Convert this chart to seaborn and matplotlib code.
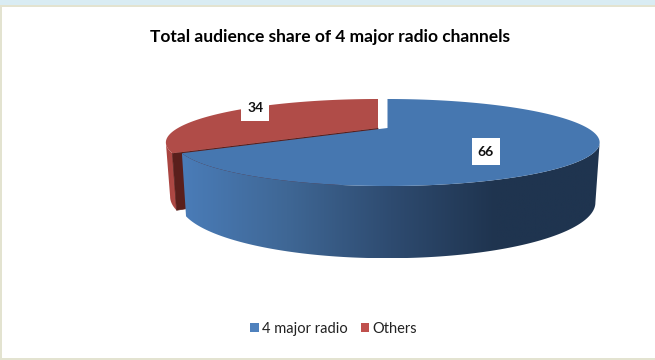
import numpy as np
import matplotlib
matplotlib.use('Agg')
import matplotlib.pyplot as plt
from matplotlib.colors import LinearSegmentedColormap
from matplotlib.patches import Patch, Polygon, Rectangle
import seaborn as sns

# Data
categories = ['4 major radio', 'Others']
shares = [66, 34]
title = 'Total audience share of 4 major radio channels'

sns.set_theme(style='white')
plt.rcParams['font.family'] = ['Lato', 'DejaVu Sans']

legend_colors = sns.color_palette(['#4F81BD', '#C0504D'])
blue_wall = sns.blend_palette(['#4A7CB8', '#3F6795', '#2E4B70', '#1F344F', '#1F344F'], 256)
red_wall = sns.blend_palette(['#A8423E', '#B04C48'], 32)


# tilted disc seen in perspective, angle clockwise from 12 o'clock
def ring(deg, cx, cy, a, k, p=1 / 3):
    t = np.radians(deg)
    u, v = np.sin(t), np.cos(t)
    return np.column_stack([cx + a * u / (1 + p * v), cy - k * v / (1 + p * v)])


def wall(ax, deg, cx, y0, colors, z):
    top = ring(deg, cx, 128, 200, 38.67)
    bottom = ring(deg, cx, y0, 196, 49.5)
    poly = Polygon(np.vstack([top, bottom[::-1]]), closed=True, fc='none', ec='none')
    ax.add_patch(poly)
    pts = poly.get_xy()
    cmap = LinearSegmentedColormap.from_list('w', colors)
    im = ax.imshow(np.linspace(0, 1, 256)[None, :], cmap=cmap, aspect='auto', zorder=z,
                   extent=(pts[:, 0].min(), pts[:, 0].max(), pts[:, 1].max(), pts[:, 1].min()))
    im.set_clip_path(poly)


fig, ax = plt.subplots(figsize=(6.55, 3.6), dpi=100)
fig.subplots_adjust(0, 0, 1, 1)
ax.axis('off')

# slide frame
ax.add_patch(Rectangle((0, 0), 655, 360, fc='#E3E3D0', ec='none', zorder=0))
ax.add_patch(Rectangle((0, 0), 655, 5, fc='#D9ECF3', ec='none', zorder=0.1))
ax.add_patch(Rectangle((2, 7), 653, 351, fc='white', ec='none', zorder=0.2))

end = 360 * shares[0] / sum(shares)

# Others slice, pulled out to the left
red_cx = 378
red_deg = np.linspace(end, 360, 200)
wall(ax, np.linspace(end, end + 13, 40), red_cx, 178, red_wall, 1)
tip_top = ring([end], red_cx, 128, 200, 38.67)[0]
tip_bot = ring([end], red_cx, 178, 196, 49.5)[0]
ax.add_patch(Polygon([(red_cx, 128), tip_top, tip_bot, (red_cx, 178)], fc='#5A1F1C', ec='#5A1F1C', lw=0.5, zorder=2))
ax.add_patch(Polygon(np.vstack([[(red_cx, 128)], ring(red_deg, red_cx, 128, 200, 38.67)]),
                     fc='#B04C48', ec='none', zorder=3))

# 4 major radio slice
blue_cx = 387.5
wall(ax, np.linspace(109.5, end, 150), blue_cx, 184, blue_wall, 4)
blue_deg = np.linspace(0, end, 300)
ax.add_patch(Polygon(np.vstack([[(blue_cx, 128)], ring(blue_deg, blue_cx, 128, 200, 38.67)]),
                     fc='#4677B0', ec='none', zorder=5))

ax.set_xlim(0, 655)
ax.set_ylim(360, 0)

ax.text(330, 37, title, ha='center', va='center', fontsize=12.55, fontweight='bold', color='black', zorder=6)
for value, (x, y) in zip(shares, [(486, 152), (256, 108)]):
    ax.text(x, y, str(value), ha='center', va='center', fontsize=10, fontweight='bold', color='#111111', zorder=7)
ax.add_patch(Rectangle((472, 138), 28, 27, fc='white', ec='none', zorder=6))
ax.add_patch(Rectangle((241, 99), 28, 22, fc='white', ec='none', zorder=6))

handles = [Patch(fc=c, ec='none', label=n) for c, n in zip(legend_colors, categories)]
ax.legend(handles=handles, loc='center', bbox_to_anchor=(333.5 / 655, 1 - 329 / 360), ncol=2, frameon=False,
          fontsize=10.5, handlelength=0.6, handleheight=0.6, handletextpad=0.2, columnspacing=0.9,
          labelcolor='#222222')

fig.savefig('out.png', dpi=100)
plt.close(fig)
